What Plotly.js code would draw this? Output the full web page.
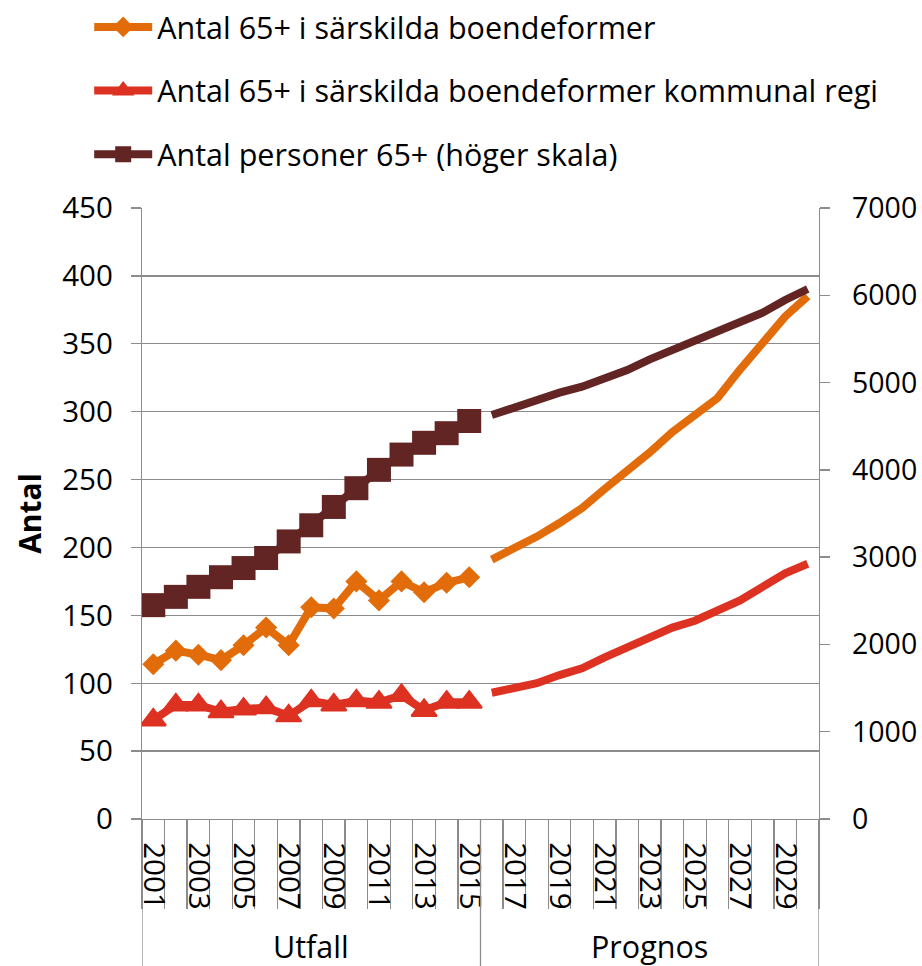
<!DOCTYPE html>
<html><head><meta charset="utf-8">
<script src="https://cdn.plot.ly/plotly-3.0.1.min.js"></script>
<style>html,body{margin:0;padding:0;background:#fff}#chart{width:922px;height:966px}</style>
</head><body><div id="chart"></div>
<script>
const years = ['2001','2002','2003','2004','2005','2006','2007','2008','2009','2010','2011','2012','2013','2014','2015',
               '2016','2017','2018','2019','2020','2021','2022','2023','2024','2025','2026','2027','2028','2029','2030'];
const tickLabels = ['2001','','2003','','2005','','2007','','2009','','2011','','2013','','2015',
                    '','2017','','2019','','2021','','2023','','2025','','2027','','2029',''];
const histYears = ['2001','2002','2003','2004','2005','2006','2007','2008','2009','2010','2011','2012','2013','2014','2015'];
const progYears = ['2016','2017','2018','2019','2020','2021','2022','2023','2024','2025','2026','2027','2028','2029','2030'];

const boendeHist = [114, 124, 121, 117, 128, 141, 128, 156, 155, 175, 161, 175, 167, 174, 178];
const boendeProg = [191, 199, 208, 218, 229, 243, 256, 270, 285, 297, 310, 331, 351, 370, 385];
const kommunalHist = [73, 84, 84, 79, 81, 82, 76, 87, 84, 87, 86, 91, 80, 86, 86];
const kommunalProg = [93, 97, 100, 106, 111, 119, 126, 133, 141, 146, 153, 161, 171, 181, 188];
const personerHist = [2450, 2545, 2660, 2770, 2875, 2990, 3180, 3365, 3575, 3790, 4000, 4175, 4310, 4420, 4560];
const personerProg = [4628, 4716, 4800, 4884, 4953, 5037, 5144, 5266, 5373, 5468, 5571, 5697, 5800, 5946, 6072];

const names = ['Antal 65+ i särskilda boendeformer',
               'Antal 65+ i särskilda boendeformer kommunal regi',
               'Antal personer 65+ (höger skala)'];
const groupLabels = ['Utfall', 'Prognos'];

const cOrange = '#E36C0A', cRed = '#DD3122', cBrown = '#632523', cGrid = '#8C8C8C';
const LW = 8;
const FS = 30.5;   // legend / category labels
const TFS = 29.5;  // tick labels

const traces = [
  {x: histYears, y: boendeHist, name: names[0], legendgroup: 'a', type: 'scatter', mode: 'lines+markers',
   line: {color: cOrange, width: LW}, marker: {symbol: 'diamond', size: 17, color: cOrange}},
  {x: progYears, y: boendeProg, name: names[0], legendgroup: 'a', showlegend: false, type: 'scatter', mode: 'lines',
   line: {color: cOrange, width: LW}},
  {x: histYears, y: kommunalHist, name: names[1], legendgroup: 'b', type: 'scatter', mode: 'lines+markers',
   line: {color: cRed, width: LW}, marker: {symbol: 'triangle-up', size: 22, color: cRed, line: {color: cRed, width: 2}}},
  {x: progYears, y: kommunalProg, name: names[1], legendgroup: 'b', showlegend: false, type: 'scatter', mode: 'lines',
   line: {color: cRed, width: LW}},
  {x: histYears, y: personerHist, name: names[2], legendgroup: 'c', yaxis: 'y2', type: 'scatter', mode: 'lines+markers',
   line: {color: cBrown, width: LW}, marker: {symbol: 'square', size: 24, color: cBrown}},
  {x: progYears, y: personerProg, name: names[2], legendgroup: 'c', showlegend: false, yaxis: 'y2', type: 'scatter', mode: 'lines',
   line: {color: cBrown, width: LW}}
];

const botY = -(966 - 819) / 611;
const layout = {
  width: 922, height: 966,
  margin: {l: 142, r: 103, t: 208, b: 147, pad: 0, autoexpand: false},
  paper_bgcolor: '#fff', plot_bgcolor: '#fff',
  font: {family: 'Open Sans, sans-serif', size: FS, color: '#000'},
  showlegend: true,
  legend: {x: -0.078, xanchor: 'left', y: 1.3395, yanchor: 'top', orientation: 'v',
           traceorder: 'grouped', tracegroupgap: 21, itemwidth: 58,
           font: {size: FS, color: '#000'}, bgcolor: 'rgba(0,0,0,0)'},
  xaxis: {type: 'category', categoryorder: 'array', categoryarray: years, range: [-0.5, 29.5],
          tickmode: 'array', tickvals: years, ticktext: tickLabels, tickangle: 90,
          ticks: 'outside', tickson: 'boundaries', ticklen: 89, tickwidth: 1.3, tickcolor: cGrid,
          ticklabelstandoff: 16, tickfont: {size: TFS},
          showline: true, linecolor: cGrid, linewidth: 1.3, showgrid: false, zeroline: false, fixedrange: true},
  yaxis: {range: [0, 450], tick0: 0, dtick: 50, showgrid: true, gridcolor: cGrid, gridwidth: 1.3,
          showline: true, linecolor: cGrid, linewidth: 1.3, ticks: 'outside', ticklen: 10, tickwidth: 1.3, tickcolor: cGrid,
          ticklabelstandoff: 12, zeroline: false, tickfont: {size: TFS},
          title: {text: '<b>Antal</b>', font: {size: 30}, standoff: 11}, fixedrange: true},
  yaxis2: {range: [0, 7000], tick0: 0, dtick: 1000, overlaying: 'y', side: 'right', showgrid: false,
           showline: true, linecolor: cGrid, linewidth: 1.3, ticks: 'outside', ticklen: 10, tickwidth: 1.3, tickcolor: cGrid,
           ticklabelstandoff: 16, zeroline: false, tickfont: {size: 28.5}, fixedrange: true},
  shapes: [
    {type: 'line', xref: 'x', yref: 'paper', x0: -0.5, x1: -0.5, y0: 0, y1: botY, line: {color: cGrid, width: 1.3}},
    {type: 'line', xref: 'x', yref: 'paper', x0: 14.5, x1: 14.5, y0: 0, y1: botY, line: {color: cGrid, width: 1.3}},
    {type: 'line', xref: 'x', yref: 'paper', x0: 29.5, x1: 29.5, y0: 0, y1: botY, line: {color: cGrid, width: 1.3}}
  ],
  annotations: [
    {xref: 'x', yref: 'paper', x: 7, y: (819 - 946) / 611, text: groupLabels[0], showarrow: false,
     xanchor: 'center', yanchor: 'middle', font: {size: FS, color: '#000'}},
    {xref: 'x', yref: 'paper', x: 22, y: (819 - 946) / 611, text: groupLabels[1], showarrow: false,
     xanchor: 'center', yanchor: 'middle', font: {size: FS, color: '#000'}}
  ]
};

Plotly.newPlot('chart', traces, layout, {displayModeBar: false, staticPlot: true});
</script>
</body></html>
